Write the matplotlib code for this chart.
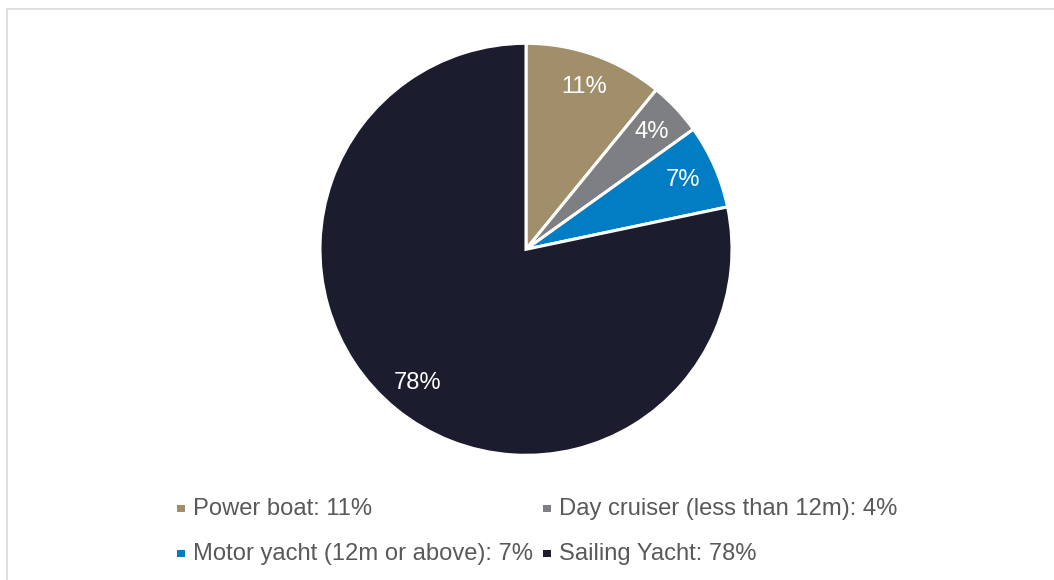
import matplotlib
matplotlib.use('Agg')
import matplotlib.pyplot as plt
from matplotlib.patches import Rectangle

plt.rcParams['font.family'] = ['Liberation Sans', 'DejaVu Sans']

# Boat type shares (percent)
categories = ['Power boat', 'Day cruiser (less than 12m)', 'Motor yacht (12m or above)', 'Sailing Yacht']
shares = [10.9, 4.2, 6.6, 78.3]
colors = ['#A08F6A', '#7E7F82', '#007DC3', '#1B1C2E']

W, H = 1054, 580
fig = plt.figure(figsize=(W / 100, H / 100), dpi=100)

# light grey frame round the chart area
fig.patches.append(Rectangle((6.5 / W, -0.1), 1.2, 1 - 8.5 / H + 0.1,
                             transform=fig.transFigure, fill=False,
                             edgecolor='#D9D9D9', linewidth=1.2))

# pie axes, placed in pixels
cx, cy, r = 526, 249.3, 206
ax = fig.add_axes([(cx - r) / W, (H - cy - r) / H, 2 * r / W, 2 * r / H])
wedges, texts, autotexts = ax.pie(
    shares, colors=colors, startangle=90, counterclock=False,
    autopct='%.0f%%', pctdistance=0.835, radius=1,
    wedgeprops=dict(edgecolor='white', linewidth=2.2),
    textprops=dict(color='white', fontsize=17.1))
ax.set_xlim(-1, 1)
ax.set_ylim(-1, 1)
ax.set_aspect('equal')
ax.axis('off')

# legend laid out like the original (two rows, two columns)
legend_pos = [(177, 515), (543, 515), (177, 560), (543, 560)]
for name, val, col, (x, y) in zip(categories, shares, colors, legend_pos):
    fig.patches.append(Rectangle((x / W, (H - y + 3) / H), 7.5 / W, 7.5 / H,
                                 transform=fig.transFigure, facecolor=col,
                                 edgecolor='none'))
    fig.text((x + 16) / W, (H - y) / H, f'{name}: {round(val)}%',
             fontsize=17.1, color='#595959', ha='left', va='baseline')

fig.savefig('out.png', dpi=100)
